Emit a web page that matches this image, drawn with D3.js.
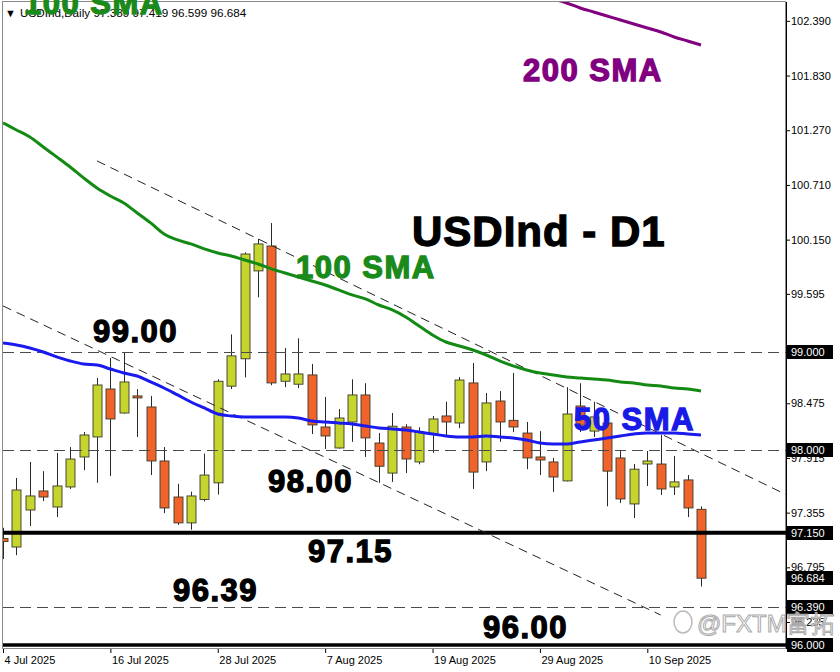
<!DOCTYPE html>
<html><head><meta charset="utf-8">
<script src="https://cdn.jsdelivr.net/npm/d3@7"></script>
<style>
html,body{margin:0;padding:0;background:#fff;}
svg{display:block;}
text{font-family:"Liberation Sans",Arial,sans-serif;}
</style></head>
<body>
<svg id="chart" width="840" height="672"></svg>
<script>
// ---------- DATA ----------
const dates = ["4 Jul","7 Jul","8 Jul","9 Jul","10 Jul","11 Jul","14 Jul","15 Jul","16 Jul","17 Jul","18 Jul",
 "21 Jul","22 Jul","23 Jul","24 Jul","25 Jul","28 Jul","29 Jul","30 Jul","31 Jul","1 Aug",
 "4 Aug","5 Aug","6 Aug","7 Aug","8 Aug","11 Aug","12 Aug","13 Aug","14 Aug","15 Aug",
 "18 Aug","19 Aug","20 Aug","21 Aug","22 Aug","25 Aug","26 Aug","27 Aug","28 Aug","29 Aug",
 "1 Sep","2 Sep","3 Sep","4 Sep","5 Sep","8 Sep","9 Sep","10 Sep","11 Sep","12 Sep","15 Sep","16 Sep"];
const open  = [97.09,97.003,97.382,97.577,97.413,97.618,97.925,98.13,98.621,98.375,98.55,
 98.437,97.884,97.515,97.25,97.49,97.66,98.65,98.93,99.83,100.085,
 98.70,98.67,98.765,98.232,98.017,98.283,98.56,98.068,97.76,98.232,
 97.874,98.16,98.345,98.273,98.683,97.874,98.498,98.30,98.17,97.925,
 97.874,97.68,98.447,98.19,98.273,97.915,97.444,97.853,97.853,97.618,97.69,97.389];
const high  = [97.20,97.71,97.874,97.78,97.966,98.027,98.18,98.734,98.939,99.0,98.62,
 98.55,98.027,97.65,97.57,97.96,98.72,99.18,100.02,100.157,100.32,
 99.04,99.14,98.877,98.54,98.416,98.72,98.68,98.17,98.375,98.26,
 98.23,98.345,98.49,98.744,98.887,98.58,98.60,98.785,98.283,98.19,
 97.915,98.64,98.68,98.49,98.30,97.997,97.853,97.986,98.15,97.935,97.74,97.419];
const low   = [96.88,96.92,97.218,97.474,97.31,97.597,97.79,97.66,97.73,98.37,98.13,
 97.74,97.35,97.23,97.18,97.47,97.54,98.62,98.74,99.56,98.66,
 98.64,98.63,98.16,98.007,98.01,98.08,97.925,97.66,97.67,97.76,
 97.85,97.966,98.13,98.22,97.597,97.78,98.08,98.18,97.80,97.74,
 97.567,97.675,98.18,98.13,97.42,97.454,97.30,97.628,97.536,97.536,97.31,96.599];
const close = [97.06,97.587,97.526,97.515,97.628,97.904,98.15,98.662,98.314,98.693,98.53,
 97.884,97.403,97.25,97.526,97.74,98.70,98.96,100.003,100.106,98.683,
 98.775,98.775,98.253,98.14,98.324,98.56,98.12,97.83,98.24,97.904,
 98.18,98.314,98.283,98.713,97.77,98.478,98.283,98.232,97.915,97.894,
 97.72,98.365,98.25,98.335,97.78,97.495,97.80,97.884,97.597,97.67,97.403,96.684];
const sma50 = [99.092,99.072,99.041,99.000,98.949,98.908,98.877,98.867,98.826,98.785,98.754,
 98.693,98.631,98.560,98.488,98.427,98.365,98.345,98.334,98.334,98.334,
 98.334,98.324,98.294,98.283,98.273,98.263,98.242,98.222,98.212,98.201,
 98.181,98.160,98.140,98.130,98.130,98.140,98.130,98.119,98.099,98.068,
 98.058,98.058,98.079,98.099,98.119,98.140,98.160,98.171,98.171,98.171,98.160,98.150];
const sma100 = [101.345,101.273,101.201,101.099,100.997,100.894,100.782,100.679,100.597,100.526,100.423,
 100.321,100.208,100.147,100.106,100.055,100.014,99.983,99.942,99.901,99.850,
 99.809,99.768,99.727,99.686,99.635,99.584,99.543,99.481,99.430,99.358,
 99.266,99.174,99.102,99.061,99.020,98.969,98.908,98.857,98.816,98.785,
 98.765,98.744,98.734,98.724,98.713,98.693,98.683,98.662,98.652,98.631,98.621,98.601];
const sma200 = [null,null,null,null,null,null,null,null,null,null,null,
 null,null,null,null,null,null,null,null,null,null,
 null,null,null,null,null,null,null,null,null,null,
 null,null,null,null,null,null,null,null,null,null,
 102.614,102.573,102.522,102.481,102.440,102.399,102.358,102.317,102.276,102.225,102.184,102.143];
const priceTicks = [102.390,101.830,101.270,100.710,100.150,99.595,99.035,98.475,97.915,97.355,96.795,96.235];
const markedPrices = [99.000,98.000,97.150,96.684,96.390,96.000];
const dashedLevels = [99.000,98.000,96.390];
const solidLevels = [97.150,96.000];
const dateTickIdx = [0,8,16,24,32,40,48];
const dateTickLabels = ["4 Jul 2025","16 Jul 2025","28 Jul 2025","7 Aug 2025","19 Aug 2025","29 Aug 2025","10 Sep 2025"];
// channel lines: [startIndex, startPrice, endIndex, endPrice]
const channelUpper = [7, 100.956, 58.4, 97.536];
const channelLower = [0, 99.471, 49.0, 96.307];
const header = "USDInd,Daily 97.389 97.419 96.599 96.684";

// ---------- LAYOUT ----------
const svg = d3.select("#chart");
const L = 3, R = 786, T = 2, B = 649;
const x = d3.scaleLinear().domain([0, 52]).range([3, 701]);
const y = d3.scaleLinear().domain([95.959, 102.583]).range([B, T]);

svg.append("defs").append("clipPath").attr("id","plot")
  .append("rect").attr("x",L).attr("y",T).attr("width",R-L).attr("height",B-T);

// frame
svg.append("rect").attr("x",L-0.5).attr("y",T-0.5).attr("width",R-L).attr("height",B-T)
  .attr("fill","none").attr("stroke","#8a8a8a").attr("stroke-width",1);

const plot = svg.append("g").attr("clip-path","url(#plot)");

// candles
const idx = d3.range(dates.length);
const cg = plot.append("g");
cg.selectAll("line.wick").data(idx).join("line")
  .attr("x1", i => Math.round(x(i))+0.5).attr("x2", i => Math.round(x(i))+0.5)
  .attr("y1", i => y(high[i])).attr("y2", i => y(low[i]))
  .attr("stroke","#2a2a2a").attr("stroke-width",1);
cg.selectAll("rect.body").data(idx).join("rect")
  .attr("x", i => Math.round(x(i))-4)
  .attr("y", i => y(Math.max(open[i],close[i])))
  .attr("width", 9)
  .attr("height", i => Math.max(2, Math.abs(y(open[i])-y(close[i]))))
  .attr("fill", i => close[i] >= open[i] ? "#c6d52e" : "#f0632a")
  .attr("stroke","#3a3a2a").attr("stroke-width",0.9);

// horizontal levels
plot.selectAll("line.dl").data(dashedLevels).join("line")
  .attr("x1",L).attr("x2",R).attr("y1",d=>Math.round(y(d))+0.5).attr("y2",d=>Math.round(y(d))+0.5)
  .attr("stroke","#4a4a4a").attr("stroke-width",1).attr("stroke-dasharray","11,6");
plot.selectAll("line.sl").data(solidLevels).join("line")
  .attr("x1",L).attr("x2",R).attr("y1",d=>y(d)).attr("y2",d=>y(d))
  .attr("stroke","#000").attr("stroke-width",(d,i)=> i===0 ? 4 : 3.5);

// channel
[channelUpper, channelLower].forEach(c => {
  plot.append("line")
    .attr("x1", x(c[0])).attr("y1", y(c[1])).attr("x2", x(c[2])).attr("y2", y(c[3]))
    .attr("stroke","#222").attr("stroke-width",1).attr("stroke-dasharray","9,6");
});

// SMAs
const line = arr => d3.line().defined(i => arr[i] != null).x(i => x(i)).y(i => y(arr[i])).curve(d3.curveMonotoneX)(idx);
plot.append("path").attr("d", line(sma100)).attr("fill","none").attr("stroke","#138a13").attr("stroke-width",3);
plot.append("path").attr("d", line(sma50)).attr("fill","none").attr("stroke","#1a1aee").attr("stroke-width",3);
plot.append("path").attr("d", line(sma200)).attr("fill","none").attr("stroke","#82007f").attr("stroke-width",3);

// right axis
const ax = svg.append("g").attr("transform",`translate(${R},0)`)
  .call(d3.axisRight(y).tickValues(priceTicks).tickFormat(d3.format(".3f")).tickSize(4).tickSizeOuter(0));
ax.select(".domain").attr("stroke","#000").attr("d",`M0.5,${T}V${B}`);
ax.selectAll(".tick line").attr("stroke","#000");
ax.selectAll(".tick text").attr("x",5).attr("font-size","11px").attr("fill","#000")
  .attr("font-family","'DejaVu Sans Condensed','Liberation Sans',sans-serif");

// marked price boxes
const mb = svg.append("g").selectAll("g").data(markedPrices).join("g")
  .attr("transform", d => `translate(${R+1},${Math.round(y(d))})`);
mb.append("rect").attr("x",0).attr("y",-7).attr("width",46).attr("height",14).attr("fill","#000");
mb.append("text").attr("x",4).attr("y",4).attr("fill","#fff").attr("font-size","11px")
  .attr("font-family","'DejaVu Sans Condensed','Liberation Sans',sans-serif")
  .text(d => d3.format(".3f")(d));

// bottom axis
const bx = svg.append("g").attr("transform",`translate(0,${B})`)
  .call(d3.axisBottom(x).tickValues(dateTickIdx).tickFormat((d,i)=>dateTickLabels[i]).tickSize(4).tickSizeOuter(0));
bx.select(".domain").remove();
bx.selectAll(".tick line").attr("stroke","#000");
bx.selectAll(".tick text").attr("text-anchor","start").attr("dx",1).attr("y",7)
  .attr("font-size","11px").attr("fill","#000")
  .attr("font-family","'DejaVu Sans Condensed','Liberation Sans',sans-serif");

// header
svg.append("text").attr("x",5).attr("y",17).attr("font-size","11px").text("▼");
svg.append("text").attr("x",20).attr("y",17).attr("font-size","11.7px")
  .attr("font-family","'DejaVu Sans Condensed','Liberation Sans',sans-serif").text(header);

// annotations
function big(txt, px, py, size, color, ls){
  svg.append("text").attr("x",px).attr("y",py).attr("font-size",size+"px").attr("font-weight","bold")
    .attr("fill",color).attr("stroke",color).attr("stroke-width",1.3).attr("letter-spacing",(ls||1)+"px")
    .attr("font-family","'Liberation Sans',Arial,sans-serif").text(txt);
}
big("100 SMA", 24, 14, 31, "#1a8a1a", 1.5);
big("200 SMA", 523, 81, 31, "#800080", 1.5);
big("100 SMA", 296, 278, 31, "#1a8a1a", 1.5);
big("50 SMA", 574, 430, 31, "#1a1ae6", 1.5);
big("USDInd - D1", 412, 246, 42, "#000", 1);
big("99.00", 93, 342, 31, "#000", 1.5);
big("98.00", 268, 492, 31, "#000", 1.5);
big("97.15", 308, 562, 31, "#000", 1.5);
big("96.39", 173, 601, 31, "#000", 1.5);
big("96.00", 483, 638, 31, "#000", 1.5);

// watermark
svg.append("ellipse").attr("cx",683).attr("cy",622).attr("rx",9).attr("ry",11)
  .attr("fill","none").attr("stroke","#bbb").attr("stroke-width",1.5);
svg.append("text").attr("x",697).attr("y",632).attr("font-size","24px")
  .attr("fill","#fff").attr("fill-opacity",0.6).attr("stroke","#aaa").attr("stroke-width",1)
  .attr("font-family","'Noto Sans CJK SC','Liberation Sans',sans-serif").text("@FXTM富拓");
</script>
</body></html>
